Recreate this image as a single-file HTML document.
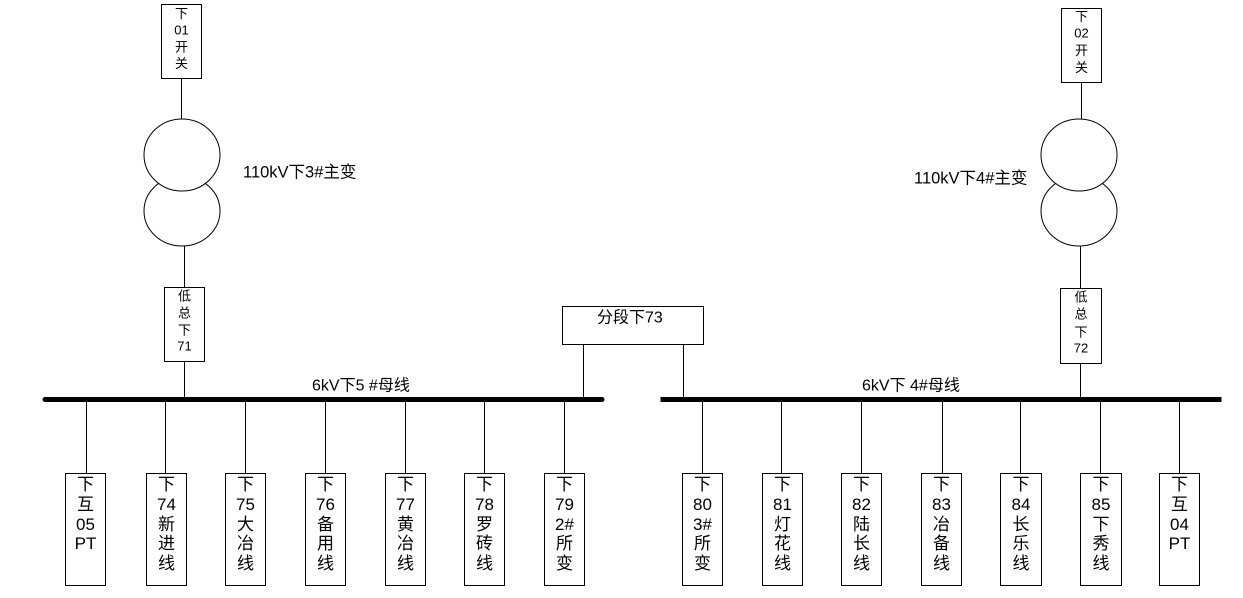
<!DOCTYPE html>
<html><head><meta charset="utf-8"><style>
html,body{margin:0;padding:0;background:#fff;}
svg{display:block;}
text{font-family:"Liberation Sans","Noto Sans CJK SC",sans-serif;fill:#000;}
.s{font-size:13px;text-anchor:middle;}
.b{font-size:17px;text-anchor:middle;}
.l{font-size:16px;}
.t{font-size:16.5px;}
</style></head><body>
<svg width="1243" height="598" viewBox="0 0 1243 598" xmlns="http://www.w3.org/2000/svg">
<g fill="none" stroke="#000" stroke-width="1">
<!-- left top -->
<rect x="161.5" y="4.5" width="40" height="74"/>
<line x1="181.5" y1="78" x2="181.5" y2="119"/>
<ellipse cx="182" cy="211" rx="38" ry="35" fill="#fff"/>
<ellipse cx="182" cy="155" rx="38" ry="36" fill="#fff"/>
<line x1="184.5" y1="246" x2="184.5" y2="287"/>
<rect x="164.5" y="287.5" width="40" height="74"/>
<line x1="184.5" y1="361" x2="184.5" y2="398"/>
<!-- right top -->
<rect x="1061.5" y="8.5" width="40" height="74"/>
<line x1="1081.5" y1="82" x2="1081.5" y2="119"/>
<ellipse cx="1079" cy="211" rx="38" ry="35" fill="#fff"/>
<ellipse cx="1079" cy="155" rx="38" ry="36" fill="#fff"/>
<line x1="1080.5" y1="246" x2="1080.5" y2="288"/>
<rect x="1060.5" y="288.5" width="41" height="75"/>
<line x1="1080.5" y1="363" x2="1080.5" y2="398"/>
<!-- segment -->
<rect x="562.5" y="306.5" width="141" height="38"/>
<line x1="583.5" y1="344" x2="583.5" y2="398"/>
<line x1="683.5" y1="344" x2="683.5" y2="398"/>
<!-- branches left -->
<line x1="86.5" y1="400" x2="86.5" y2="473"/>
<line x1="165.5" y1="400" x2="165.5" y2="473"/>
<line x1="245.5" y1="400" x2="245.5" y2="473"/>
<line x1="325.5" y1="400" x2="325.5" y2="473"/>
<line x1="405.5" y1="400" x2="405.5" y2="473"/>
<line x1="484.5" y1="400" x2="484.5" y2="473"/>
<line x1="564.5" y1="400" x2="564.5" y2="473"/>
<rect x="65.5" y="473.5" width="40" height="112"/>
<rect x="146.5" y="473.5" width="40" height="112"/>
<rect x="225.5" y="473.5" width="40" height="112"/>
<rect x="305.5" y="473.5" width="40" height="112"/>
<rect x="385.5" y="473.5" width="40" height="112"/>
<rect x="464.5" y="473.5" width="40" height="112"/>
<rect x="544.5" y="473.5" width="40" height="112"/>
<!-- branches right -->
<line x1="702.5" y1="400" x2="702.5" y2="473"/>
<line x1="781.5" y1="400" x2="781.5" y2="473"/>
<line x1="861.5" y1="400" x2="861.5" y2="473"/>
<line x1="942.5" y1="400" x2="942.5" y2="473"/>
<line x1="1020.5" y1="400" x2="1020.5" y2="473"/>
<line x1="1100.5" y1="400" x2="1100.5" y2="473"/>
<line x1="1179.5" y1="400" x2="1179.5" y2="473"/>
<rect x="682.5" y="473.5" width="40" height="112"/>
<rect x="762.5" y="473.5" width="40" height="112"/>
<rect x="841.5" y="473.5" width="40" height="112"/>
<rect x="921.5" y="473.5" width="40" height="112"/>
<rect x="1000.5" y="473.5" width="41" height="112"/>
<rect x="1080.5" y="473.5" width="41" height="112"/>
<rect x="1159.5" y="473.5" width="40" height="112"/>
</g>
<!-- buses -->
<line x1="45" y1="399.5" x2="602" y2="399.5" stroke="#000" stroke-width="5" stroke-linecap="round"/>
<line x1="663" y1="399.5" x2="1219" y2="399.5" stroke="#000" stroke-width="5" stroke-linecap="square"/>

<!-- labels -->
<text class="t" x="243" y="177.5">110kV下3#主变</text>
<text class="t" x="914" y="183.5">110kV下4#主变</text>
<text class="l" x="597" y="322.5">分段下73</text>
<text class="l" x="312" y="390.5">6kV下5 #母线</text>
<text class="l" x="862" y="390.5">6kV下 4#母线</text>

<!-- top boxes -->
<text class="s" x="181.5" y="18">下</text>
<text class="s" x="181.5" y="34.5">01</text>
<text class="s" x="181.5" y="51.5">开</text>
<text class="s" x="181.5" y="68">关</text>
<text class="s" x="1081.5" y="21">下</text>
<text class="s" x="1081.5" y="37.5">02</text>
<text class="s" x="1081.5" y="55">开</text>
<text class="s" x="1081.5" y="72">关</text>

<text class="s" x="184.5" y="300.5">低</text>
<text class="s" x="184.5" y="317.5">总</text>
<text class="s" x="184.5" y="334.5">下</text>
<text class="s" x="184.5" y="350.5">71</text>
<text class="s" x="1081" y="301.5">低</text>
<text class="s" x="1081" y="318.5">总</text>
<text class="s" x="1081" y="336.5">下</text>
<text class="s" x="1081" y="352.5">72</text>

<!-- bottom boxes left -->
<g class="b">
<text class="b" x="85.5" y="490">下</text><text class="b" x="85.5" y="510">互</text><text class="b" x="85.5" y="530">05</text><text class="b" x="85.5" y="549">PT</text>

<text class="b" x="166.5" y="490">下</text><text class="b" x="166.5" y="510">74</text><text class="b" x="166.5" y="530">新</text><text class="b" x="166.5" y="549">进</text><text class="b" x="166.5" y="569">线</text>

<text class="b" x="245.5" y="490">下</text><text class="b" x="245.5" y="510">75</text><text class="b" x="245.5" y="530">大</text><text class="b" x="245.5" y="549">冶</text><text class="b" x="245.5" y="569">线</text>

<text class="b" x="325.5" y="490">下</text><text class="b" x="325.5" y="510">76</text><text class="b" x="325.5" y="530">备</text><text class="b" x="325.5" y="549">用</text><text class="b" x="325.5" y="569">线</text>

<text class="b" x="405.5" y="490">下</text><text class="b" x="405.5" y="510">77</text><text class="b" x="405.5" y="530">黄</text><text class="b" x="405.5" y="549">冶</text><text class="b" x="405.5" y="569">线</text>

<text class="b" x="484.5" y="490">下</text><text class="b" x="484.5" y="510">78</text><text class="b" x="484.5" y="530">罗</text><text class="b" x="484.5" y="549">砖</text><text class="b" x="484.5" y="569">线</text>

<text class="b" x="564.5" y="490">下</text><text class="b" x="564.5" y="510">79</text><text class="b" x="564.5" y="530">2#</text><text class="b" x="564.5" y="549">所</text><text class="b" x="564.5" y="569">变</text>

<!-- bottom boxes right -->
<text class="b" x="702.5" y="490">下</text><text class="b" x="702.5" y="510">80</text><text class="b" x="702.5" y="530">3#</text><text class="b" x="702.5" y="549">所</text><text class="b" x="702.5" y="569">变</text>

<text class="b" x="782.5" y="490">下</text><text class="b" x="782.5" y="510">81</text><text class="b" x="782.5" y="530">灯</text><text class="b" x="782.5" y="549">花</text><text class="b" x="782.5" y="569">线</text>

<text class="b" x="861.5" y="490">下</text><text class="b" x="861.5" y="510">82</text><text class="b" x="861.5" y="530">陆</text><text class="b" x="861.5" y="549">长</text><text class="b" x="861.5" y="569">线</text>

<text class="b" x="941.5" y="490">下</text><text class="b" x="941.5" y="510">83</text><text class="b" x="941.5" y="530">冶</text><text class="b" x="941.5" y="549">备</text><text class="b" x="941.5" y="569">线</text>

<text class="b" x="1021" y="490">下</text><text class="b" x="1021" y="510">84</text><text class="b" x="1021" y="530">长</text><text class="b" x="1021" y="549">乐</text><text class="b" x="1021" y="569">线</text>

<text class="b" x="1101" y="490">下</text><text class="b" x="1101" y="510">85</text><text class="b" x="1101" y="530">下</text><text class="b" x="1101" y="549">秀</text><text class="b" x="1101" y="569">线</text>

<text class="b" x="1179.5" y="490">下</text><text class="b" x="1179.5" y="510">互</text><text class="b" x="1179.5" y="530">04</text><text class="b" x="1179.5" y="549">PT</text>
</g>
</svg>
</body></html>
